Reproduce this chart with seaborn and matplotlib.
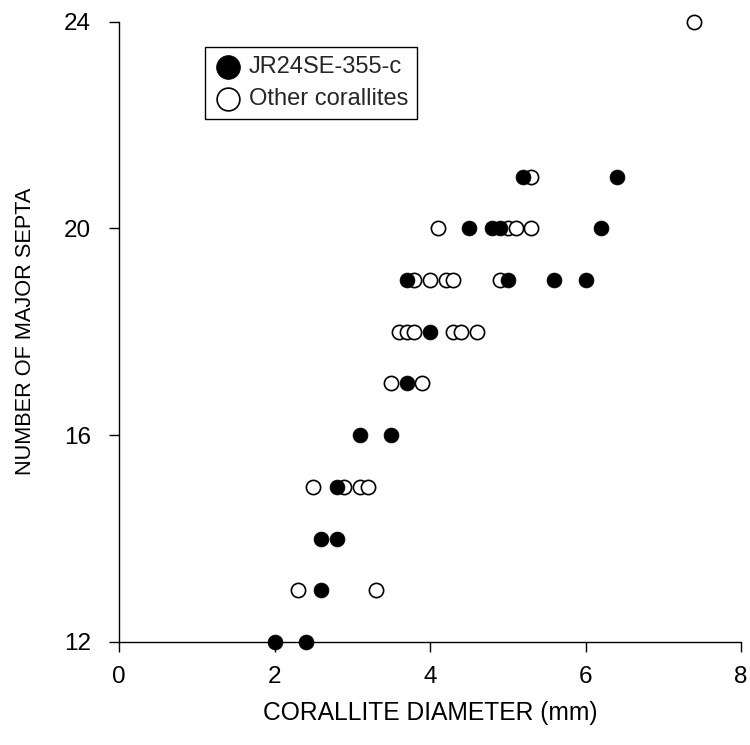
import matplotlib
matplotlib.use("Agg")
import matplotlib.pyplot as plt
import seaborn as sns
import pandas as pd

# Data
jr_x = [5.2, 6.4, 4.5, 4.8, 4.9, 6.2, 3.7, 5.0, 5.6, 6.0, 4.0, 3.7, 3.1, 3.5, 2.8, 2.6, 2.8, 2.6, 2.0, 2.4]
jr_y = [21, 21, 20, 20, 20, 20, 19, 19, 19, 19, 18, 17, 16, 16, 15, 14, 14, 13, 12, 12]
other_x = [7.4, 5.3, 4.1, 5.0, 5.1, 5.3, 3.8, 4.0, 4.2, 4.3, 4.9, 3.6, 3.7, 3.8, 4.3, 4.4, 4.6,
           3.5, 3.9, 2.5, 2.9, 3.1, 3.2, 2.3, 3.3]
other_y = [24, 21, 20, 20, 20, 20, 19, 19, 19, 19, 19, 18, 18, 18, 18, 18, 18,
           17, 17, 15, 15, 15, 15, 13, 13]
x_ticks = [0, 2, 4, 6, 8]
y_ticks = [12, 16, 20, 24]
series_names = ["JR24SE-355-c", "Other corallites"]

sns.set_theme(style="white")
plt.rcParams['font.family'] = ['Liberation Sans', 'DejaVu Sans']

df_jr = pd.DataFrame({"x": jr_x, "y": jr_y})
df_ot = pd.DataFrame({"x": other_x, "y": other_y})

fig = plt.figure(figsize=(7.5, 7.45), dpi=100)
ax = fig.add_axes([0.1587, 0.1383, 0.988 - 0.1587, 0.971 - 0.1383])

sns.scatterplot(data=df_ot, x="x", y="y", ax=ax, s=105, marker="o",
                facecolor="white", edgecolor="black", linewidth=1.2,
                label=series_names[1], clip_on=False, zorder=3)
sns.scatterplot(data=df_jr, x="x", y="y", ax=ax, s=115, marker="o",
                color="black", edgecolor="black", linewidth=0.5,
                label=series_names[0], clip_on=False, zorder=4)

ax.set_xlim(0, 8)
ax.set_ylim(12, 24)
ax.set_xticks(x_ticks)
ax.set_yticks(y_ticks)
ax.set_xticklabels([str(t) for t in x_ticks])
ax.set_yticklabels([str(t) for t in y_ticks])

for side in ["top", "right"]:
    ax.spines[side].set_visible(False)
for side in ["left", "bottom"]:
    ax.spines[side].set_color("black")
    ax.spines[side].set_linewidth(1.0)

ax.tick_params(axis="both", which="major", direction="out", length=7, width=1,
               color="black", labelsize=17.5, labelcolor="black", bottom=True, left=True)
ax.tick_params(axis="x", pad=10)
ax.tick_params(axis="y", pad=13)

ax.set_xlabel("CORALLITE DIAMETER (mm)", fontsize=17.7, color="black", labelpad=10)
ax.set_ylabel("NUMBER OF MAJOR SEPTA", fontsize=15.7, color="black", labelpad=20)

handles, labels = ax.get_legend_handles_labels()
order = [labels.index(n) for n in series_names]
leg = ax.legend([handles[i] for i in order], [labels[i] for i in order],
                loc="upper left", bbox_to_anchor=(0.138, 0.959), fontsize=17,
                frameon=True, fancybox=False, shadow=False, markerscale=1.6,
                handletextpad=0.25, borderpad=0.4, labelspacing=0.4,
                handlelength=1.2, borderaxespad=0)
leg.get_frame().set_edgecolor("black")
leg.get_frame().set_linewidth(1.0)
leg.get_frame().set_alpha(1)

fig.savefig("out.png", dpi=100)
